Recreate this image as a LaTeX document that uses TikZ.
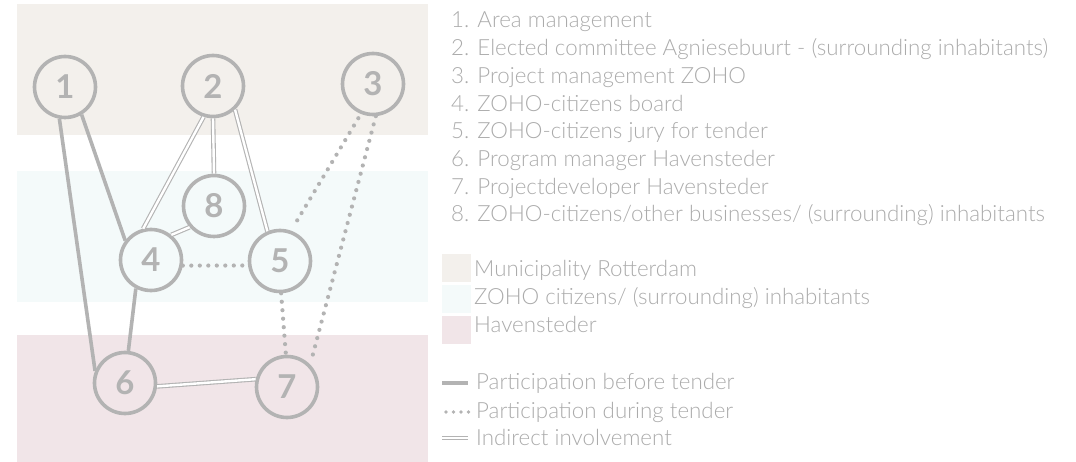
\documentclass[tikz,border=0pt]{standalone}
\usepackage{fontspec}
\setmainfont{Lato Light}
\newfontfamily\numfont{Lato Bold}
\usetikzlibrary{positioning}
\definecolor{bandtop}{HTML}{F3F0EC}
\definecolor{bandmid}{HTML}{F4FAFA}
\definecolor{bandlow}{HTML}{F1E5E8}
\definecolor{linegray}{HTML}{B3B3B3}
\definecolor{textgray}{HTML}{ABABAB}
\tikzset{
  actor/.style={circle,draw=linegray,line width=3.6bp,minimum size=61bp,inner sep=0pt,
    text=linegray,font=\numfont\fontsize{33}{33}\selectfont},
  before/.style={draw=linegray,line width=3.6bp},
  during/.style={draw=linegray,line width=4.2bp,line cap=round,dash pattern=on 0pt off 8.5bp},
  indirect/.style={draw=linegray,line width=1.1bp,double=white,double distance=2.4bp},
  item/.style={anchor=base west,inner sep=0pt,text=textgray,font=\fontsize{22.4}{22.4}\selectfont},
  swatch/.style={minimum width=29bp,minimum height=28bp,inner sep=0pt},
}
\begin{document}
\begin{tikzpicture}[x=1bp,y=-1bp]
\useasboundingbox (0,0) rectangle (1076,462);
% bands
\fill[bandtop] (17,4) rectangle (428,135);
\fill[bandmid] (17,171) rectangle (428,302);
\fill[bandlow] (17,335) rectangle (428,462);
% actors
\node[actor] (n1) at (65,87) {1};
\node[actor] (n2) at (213,86) {2};
\node[actor] (n3) at (373,84) {3};
\node[actor] (n8) at (214,206) {8};
\node[actor] (n4) at (151,260) {4};
\node[actor] (n5) at (280,261) {5};
\node[actor] (n6) at (125,383) {6};
\node[actor] (n7) at (287,387) {7};
% relations
\draw[before] (n1.260) -- (n6.158);
\draw[before] (n1.-59) -- (n4.143);
\draw[before] (n4.242) -- (n6.84);
\draw[indirect] (n2.253) -- (n4.104);
\draw[indirect] (n2.south) -- (n8.north);
\draw[indirect] (n2.-47) -- (n5.113);
\draw[indirect] (n8.221) -- (n4.51);
\draw[indirect] (n6.-6) -- (n7.166);
\draw[during,shorten <=5bp,shorten >=5bp] (n3.248) -- (n5.70);
\draw[during,shorten >=5bp] (n3.275) -- (n7.44);
\draw[during] (n4.-10) -- (n5.188);
\draw[during] (n5.-88) -- (n7.92);
% list of actors
\node[item] (t1) at (451,28) {1. Area management};
\node[item] (t2) at (451,55.7) {2. Elected committee Agniesebuurt - (surrounding inhabitants)};
\node[item] (t3) at (451,83.4) {3. Project management ZOHO};
\node[item] (t4) at (451,111.1) {4. ZOHO-citizens board};
\node[item] (t5) at (451,138.8) {5. ZOHO-citizens jury for tender};
\node[item] (t6) at (451,166.5) {6. Program manager Havensteder};
\node[item] (t7) at (451,194.2) {7. Projectdeveloper Havensteder};
\node[item] (t8) at (451,221.9) {8. ZOHO-citizens/other businesses/ (surrounding) inhabitants};
% legend of bands
\node[swatch,fill=bandtop] (s1) at (456.5,268) {};
\node[swatch,fill=bandmid] (s2) at (456.5,299) {};
\node[swatch,fill=bandlow] (s3) at (456.5,330) {};
\node[item] (l1) at (474,277) {Municipality Rotterdam};
\node[item] (l2) at (474,305) {ZOHO citizens/ (surrounding) inhabitants};
\node[item] (l3) at (474,333) {Havensteder};
% legend of relations
\coordinate (a1) at (442,383);
\coordinate (a2) at (468,383);
\coordinate (b1) at (446,412);
\coordinate (b2) at (473,412);
\coordinate (c1) at (442,438);
\coordinate (c2) at (468,438);
\draw[before] (a1) -- (a2);
\draw[during,line width=3.6bp,dash pattern=on 0pt off 7.5bp] (b1) -- (b2);
\draw[indirect,line width=0.9bp] (c1) -- (c2);
\node[item] (r1) at (476,390) {Participation before tender};
\node[item] (r2) at (476,419) {Participation during tender};
\node[item] (r3) at (476,445) {Indirect involvement};
\end{tikzpicture}
\end{document}
